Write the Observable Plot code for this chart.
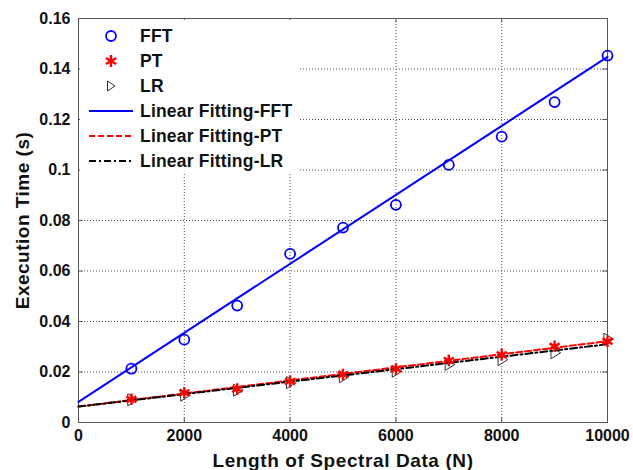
<!DOCTYPE html>
<html>
<head>
<meta charset="utf-8">
<script src="https://cdn.jsdelivr.net/npm/d3@7"></script>
<script src="https://cdn.jsdelivr.net/npm/@observablehq/plot@0.6"></script>
<style>
  html, body { margin: 0; padding: 0; background: #fff; }
  #wrap { position: relative; width: 633px; height: 470px; font-family: "Liberation Sans", Arial, sans-serif; }
  #legend { position: absolute; left: 80px; top: 20px; width: 220px; height: 152px; background: #fff; }
  .row { position: absolute; left: 0; height: 24px; display: flex; align-items: center; font-weight: bold; font-size: 17.5px; letter-spacing: 0.2px; color: #111; }
  .row svg { width: 56px; height: 24px; display: block; }
  .row span { margin-left: 4px; }
</style>
</head>
<body>
<div id="wrap"></div>
<script>
const N = [1000, 2000, 3000, 4000, 5000, 6000, 7000, 8000, 9000, 10000];
const fft = [0.0213, 0.0328, 0.0463, 0.0668, 0.0772, 0.0862, 0.1020, 0.1132, 0.1269, 0.1453];
const pt  = [0.0092, 0.0118, 0.0132, 0.0163, 0.0190, 0.0212, 0.0246, 0.0269, 0.0302, 0.0322];
const lr  = [0.0090, 0.0108, 0.0128, 0.0158, 0.0181, 0.0203, 0.0230, 0.0249, 0.0276, 0.0330];
const fitN = [0, 10000];
const fitFFT = [0.0082, 0.1448];
const fitPT = [0.0063, 0.0322];
const fitLR = [0.0063, 0.0310];
const xTicks = [0, 2000, 4000, 6000, 8000, 10000];
const yTicks = [0, 0.02, 0.04, 0.06, 0.08, 0.1, 0.12, 0.14, 0.16];
const legendLabels = ["FFT", "PT", "LR", "Linear Fitting-FFT", "Linear Fitting-PT", "Linear Fitting-LR"];

const pts = (ys) => N.map((n, i) => ({n, v: ys[i]}));
const fit = (ys) => fitN.map((n, i) => ({n, v: ys[i]}));

const rightTri = {
  draw(ctx, size) {
    const r = Math.sqrt(size) * 0.62;
    ctx.moveTo(r, 0);
    ctx.lineTo(-r * 0.6, -r);
    ctx.lineTo(-r * 0.6, r);
    ctx.closePath();
  }
};
const fmtY = d => d === 0 ? "0" : String(+d.toFixed(2));

const chart = Plot.plot({
  width: 633,
  height: 470,
  marginLeft: 78,
  marginRight: 26,
  marginTop: 18,
  marginBottom: 48,
  style: {fontFamily: "'Liberation Sans', Arial, sans-serif", fontSize: "16px", fontWeight: "bold", color: "#111", background: "#fff"},
  x: {domain: [0, 10000]},
  y: {domain: [0, 0.16]},
  marks: [
    Plot.ruleX(xTicks.slice(1, -1), {x: d => d, stroke: "#555", strokeDasharray: "1,2", strokeWidth: 1}),
    Plot.ruleY(yTicks.slice(1, -1), {y: d => d, stroke: "#555", strokeDasharray: "1,2", strokeWidth: 1}),
    Plot.frame({stroke: "#555", strokeWidth: 1}),
    Plot.axisX({ticks: xTicks, tickSize: 0, tickPadding: 7, tickFormat: d => String(d), fontSize: 16, label: null}),
    Plot.axisY({ticks: yTicks, tickSize: 0, tickPadding: 8, tickFormat: fmtY, fontSize: 16, label: null}),
    Plot.ruleX(xTicks, {x: d => d, y1: 0, y2: 0.0018, stroke: "#555"}),
    Plot.ruleX(xTicks, {x: d => d, y1: 0.1582, y2: 0.16, stroke: "#555"}),
    Plot.ruleY(yTicks, {y: d => d, x1: 0, x2: 90, stroke: "#555"}),
    Plot.ruleY(yTicks, {y: d => d, x1: 9910, x2: 10000, stroke: "#555"}),
    Plot.line(fit(fitFFT), {x: "n", y: "v", stroke: "#0000ff", strokeWidth: 2}),
    Plot.line(fit(fitPT), {x: "n", y: "v", stroke: "#ff0000", strokeWidth: 2, strokeDasharray: "6,3"}),
    Plot.line(fit(fitLR), {x: "n", y: "v", stroke: "#000", strokeWidth: 2, strokeDasharray: "7,3,2,3"}),
    Plot.dot(pts(fft), {x: "n", y: "v", r: 5, stroke: "#0000ff", strokeWidth: 1.8, fill: "none"}),
    Plot.dot(pts(lr), {x: "n", y: "v", symbol: rightTri, r: 5.5, stroke: "#333", strokeWidth: 1, fill: "none"}),
    Plot.dot(pts(pt), {x: "n", y: "v", symbol: "asterisk", r: 5.5, stroke: "#ff0000", strokeWidth: 2.4, fill: "none"}),
    Plot.text(["Length of Spectral Data (N)"], {frameAnchor: "bottom", textAnchor: "middle", lineAnchor: "middle", dy: 38, fontSize: 19, fontWeight: "bold", fill: "#111"}),
    Plot.text(["Execution Time (s)"], {frameAnchor: "left", textAnchor: "middle", lineAnchor: "middle", dx: -56, rotate: -90, fontSize: 19, fontWeight: "bold", fill: "#111"})
  ]
});
chart.style.overflow = "visible";
const wrap = document.getElementById("wrap");
wrap.appendChild(chart);
chart.querySelectorAll("text").forEach(t => {
  if (t.textContent.startsWith("Length")) t.setAttribute("letter-spacing", "0.6");
  if (t.textContent.startsWith("Execution")) t.setAttribute("letter-spacing", "0.5");
});

// legend (white box covering grid, no border, like the reference)
const legend = document.createElement("div");
legend.id = "legend";
const ns = "http://www.w3.org/2000/svg";
const samples = [
  `<circle cx="31" cy="12" r="5" fill="none" stroke="#0000ff" stroke-width="1.8"/>`,
  `<g stroke="#ff0000" stroke-width="2.4"><line x1="31" y1="6" x2="31" y2="18"/><line x1="25.8" y1="9" x2="36.2" y2="15"/><line x1="25.8" y1="15" x2="36.2" y2="9"/></g>`,
  `<path d="M35,12 L27.5,7 L27.5,17 Z" fill="none" stroke="#333" stroke-width="1"/>`,
  `<line x1="9" y1="12" x2="53" y2="12" stroke="#0000ff" stroke-width="2"/>`,
  `<line x1="9" y1="12" x2="53" y2="12" stroke="#ff0000" stroke-width="2" stroke-dasharray="6,3"/>`,
  `<line x1="9" y1="12" x2="53" y2="12" stroke="#000" stroke-width="2" stroke-dasharray="7,3,2,3"/>`
];
legendLabels.forEach((lab, i) => {
  const row = document.createElement("div");
  row.className = "row";
  row.style.top = (4 + i * 25) + "px";
  row.innerHTML = `<svg xmlns="${ns}" viewBox="0 0 56 24">${samples[i]}</svg><span>${lab}</span>`;
  legend.appendChild(row);
});
wrap.appendChild(legend);
</script>
</body>
</html>
